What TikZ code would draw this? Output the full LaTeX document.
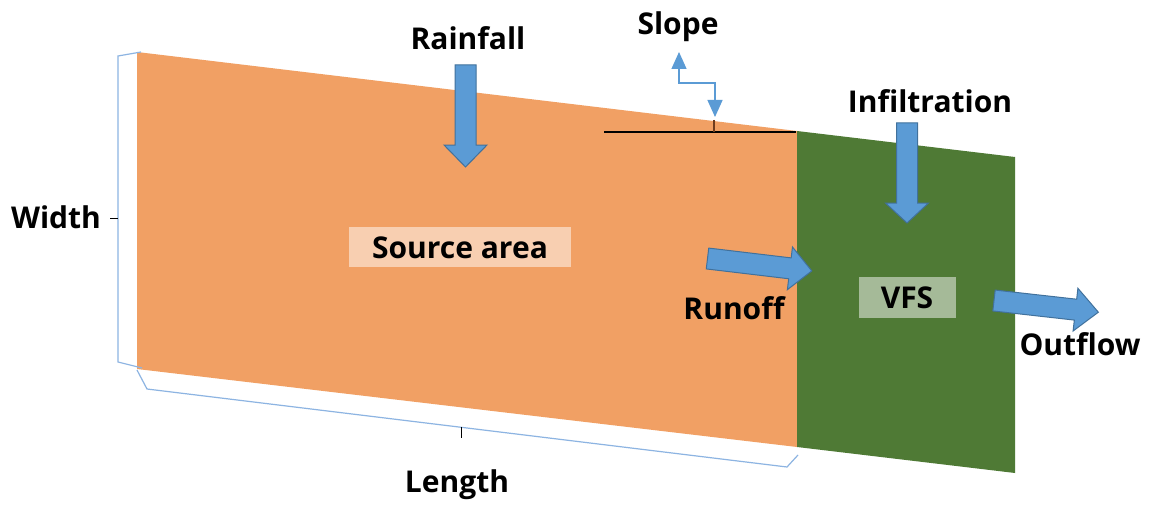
\documentclass[tikz,border=0pt]{standalone}
\usepackage{fontspec}
\setsansfont{Open Sans}
\usetikzlibrary{arrows.meta}
\definecolor{srcorange}{HTML}{F1A064}
\definecolor{vfsgreen}{HTML}{4F7A35}
\definecolor{srcbox}{HTML}{F8CFB1}
\definecolor{vfsbox}{HTML}{A5BA98}
\definecolor{arrfill}{HTML}{5B9BD5}
\definecolor{arredge}{HTML}{41719C}
\definecolor{bracecol}{HTML}{8DB4E2}
\tikzset{
  lbl/.style={font=\sffamily\bfseries\fontsize{30}{34}\selectfont, text=black, inner sep=0pt, anchor=base},
  barrow/.style={fill=arrfill, draw=arredge, line width=1pt, line join=miter},
  bracket/.style={draw=bracecol, line width=1.2pt},
  tick/.style={draw=black, line width=1pt},
  slopearr/.style={draw=arrfill, line width=1.3pt, {Triangle[width=15pt,length=17pt]}-{Triangle[width=15pt,length=17pt]}},
}
\newcommand{\blockarr}[5]{%
  \begin{scope}[shift={(#1,#2)},rotate=#3]
    \draw[barrow] (0,-10.5) -- (#4-#5,-10.5) -- (#4-#5,-21.5) -- (#4,0) -- (#4-#5,21.5) -- (#4-#5,10.5) -- (0,10.5) -- cycle;
  \end{scope}}
\begin{document}
\begin{tikzpicture}[x=1pt,y=-1pt]
\path[use as bounding box, fill=white] (0,0) rectangle (1166,516);
% areas
\fill[srcorange] (137,52) -- (797,131) -- (797,447) -- (137,369) -- cycle;
\fill[vfsgreen] (797,131) -- (1015,157) -- (1015,473) -- (797,447) -- cycle;
% slope symbol
\draw[black, line width=1.5pt] (604,132) -- (796,132);
\draw[draw={rgb,255:red,110;green,60;blue,30}, line width=1.5pt] (714,120) -- (714,132);
\draw[slopearr] (679,52) -- (679,83) -- (715,83) -- (715,117);
% brackets
\draw[bracket] (141,52) -- (118,56) -- (118,362) -- (142,368);
\draw[tick] (110,218) -- (118,218);
\draw[bracket] (137,370) -- (147,389) -- (787,467) -- (798,455);
\draw[tick] (461,427) -- (461,438);
% boxes
\node[fill=srcbox, minimum width=222pt, minimum height=40pt, inner sep=0pt] (srcb) at (460,247) {};
\node[lbl] (src) at (460,258) {Source area};
\node[fill=vfsbox, minimum width=97pt, minimum height=41pt, inner sep=0pt] (vfsb) at (907.5,297.5) {};
\node[lbl] (vfs) at (907,308) {VFS};
% block arrows
\blockarr{465.5}{65}{-90}{102}{22}
\blockarr{907}{123}{-90}{100}{20}
\blockarr{707.5}{258.5}{-6.8}{105}{22}
\blockarr{994}{300.5}{-6.4}{105}{23}
% labels
\node[lbl] (rain) at (468,50) {Rainfall};
\node[lbl] (slope) at (678,35) {Slope};
\node[lbl] (infil) at (930,113) {Infiltration};
\node[lbl] (runoff) at (734,319) {Runoff};
\node[lbl] (outflow) at (1080,355) {Outflow};
\node[lbl] (width) at (56,228) {Width};
\node[lbl] (length) at (457,492) {Length};
\end{tikzpicture}
\end{document}
